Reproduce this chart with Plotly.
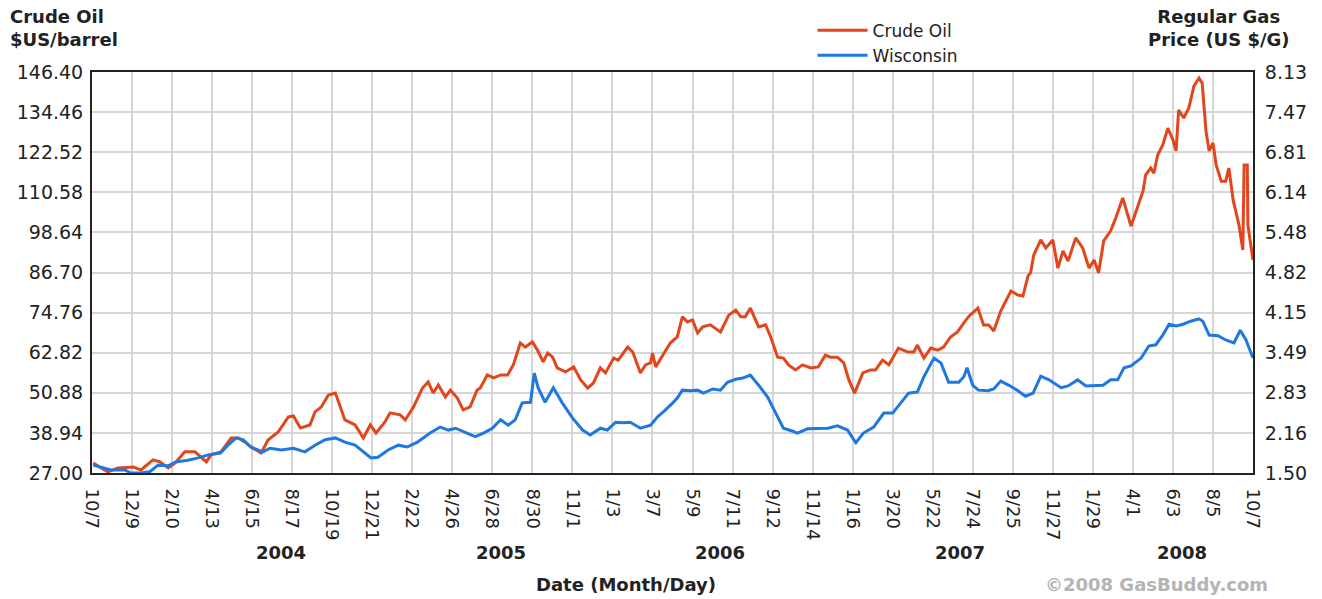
import pandas as pd
import plotly.graph_objects as go

START = pd.Timestamp("2003-10-07")

# Crude oil ($US/barrel): days since 2003-10-07, price
oil_days = [2, 25, 41, 65, 77, 96, 107, 120, 131, 146, 162, 180, 187, 203, 219, 230, 241, 250, 266, 277,
            293, 309, 317, 328, 343, 351, 361, 372, 383, 387, 398, 414, 427, 438, 447, 461, 469, 485, 493, 506,
            520, 529, 537, 545, 556, 564, 575, 584, 595, 606, 611, 622, 632, 643, 654, 663, 674, 682, 693, 701,
            710, 717, 725, 732, 745, 758, 769, 780, 789, 800, 808, 821, 828, 843, 851, 863, 871, 879, 882, 887,
            899, 910, 921, 929, 937, 945, 953, 961, 973, 989, 1002, 1013, 1021, 1028, 1036, 1049, 1060, 1068, 1079, 1088,
            1096, 1107, 1118, 1131, 1143, 1154, 1162, 1173, 1183, 1191, 1200, 1213, 1225, 1233, 1244, 1254, 1269, 1284, 1293, 1299,
            1309, 1320, 1331, 1340, 1351, 1362, 1372, 1380, 1394, 1403, 1411, 1419, 1430, 1446, 1457, 1465, 1473, 1477, 1482, 1493,
            1501, 1512, 1520, 1528, 1536, 1548, 1559, 1569, 1577, 1584, 1592, 1603, 1611, 1622, 1635, 1643, 1654, 1658, 1666, 1671,
            1677, 1685, 1693, 1701, 1706, 1710, 1718, 1726, 1734, 1742, 1747, 1753, 1758, 1764, 1769, 1777, 1784, 1789, 1796, 1805,
            1811, 1813, 1818, 1819, 1827]
oil_price = [30.0, 27.3, 28.5, 28.8, 27.9, 30.9, 30.3, 28.5, 30.0, 33.3, 33.3, 30.3, 32.4, 33.3, 37.4, 37.4, 36.2, 34.7, 33.0, 36.8,
             39.2, 43.7, 44.0, 40.4, 41.3, 45.2, 46.7, 50.2, 50.8, 48.7, 42.8, 41.3, 37.4, 41.3, 38.9, 42.2, 44.9, 44.3, 42.8, 46.7,
             52.3, 54.1, 50.8, 53.2, 49.6, 51.7, 49.3, 45.8, 46.7, 51.7, 52.3, 56.2, 55.3, 56.2, 56.2, 59.2, 65.7, 64.5, 66.0, 63.6,
             60.1, 62.7, 61.5, 58.3, 57.1, 58.6, 54.7, 52.3, 53.8, 58.3, 56.8, 61.2, 60.6, 64.5, 63.0, 56.8, 59.2, 59.8, 62.7, 58.6,
             62.1, 65.7, 67.5, 73.5, 72.0, 72.6, 68.7, 70.5, 71.1, 69.0, 74.0, 75.5, 73.5, 73.5, 76.1, 70.5, 71.1, 67.5, 61.5, 61.2,
             59.2, 57.7, 59.2, 58.3, 58.6, 62.1, 61.5, 61.5, 59.8, 54.7, 50.8, 56.8, 57.7, 57.7, 60.6, 59.2, 64.2, 63.0, 63.0, 65.1,
             61.2, 64.2, 63.6, 64.5, 67.5, 69.0, 71.7, 73.7, 76.1, 71.1, 71.1, 69.3, 75.2, 81.2, 80.0, 79.7, 85.7, 86.6, 91.9, 96.4,
             94.0, 96.4, 88.0, 93.1, 90.1, 97.0, 94.0, 88.0, 90.4, 86.6, 96.1, 99.1, 102.9, 108.9, 100.5, 105.0, 111.0, 115.7, 117.8, 116.3,
             121.7, 124.7, 129.7, 126.2, 122.9, 135.1, 132.7, 135.7, 142.2, 144.6, 143.1, 128.8, 122.9, 125.3, 118.7, 113.9, 113.9, 117.8, 108.0, 100.8,
             93.4, 118.7, 118.7, 100.8, 90.4]

# Wisconsin regular gas (US $/G): days since 2003-10-07, price
gas_days = [2, 14, 30, 52, 61, 77, 91, 104, 120, 131, 151, 167, 183, 202, 214, 227, 238, 250, 269, 280,
            298, 317, 335, 351, 367, 383, 398, 414, 430, 439, 450, 466, 482, 496, 512, 532, 548, 561, 572, 591,
            603, 616, 630, 643, 655, 666, 677, 690, 696, 702, 713, 726, 740, 756, 772, 784, 800, 811, 824, 836,
            847, 863, 879, 890, 899, 914, 921, 929, 942, 953, 962, 977, 989, 1000, 1013, 1024, 1036, 1049, 1063, 1076,
            1088, 1103, 1110, 1126, 1142, 1158, 1173, 1189, 1202, 1214, 1230, 1246, 1260, 1273, 1285, 1299, 1309, 1325, 1336, 1348,
            1364, 1372, 1377, 1386, 1395, 1410, 1419, 1430, 1443, 1457, 1469, 1481, 1493, 1506, 1525, 1536, 1551, 1564, 1577, 1591,
            1603, 1614, 1624, 1635, 1651, 1663, 1674, 1685, 1695, 1706, 1717, 1729, 1742, 1748, 1758, 1772, 1784, 1797, 1807, 1816,
            1827]
gas_price = [1.63, 1.60, 1.55, 1.55, 1.50, 1.50, 1.52, 1.63, 1.62, 1.68, 1.71, 1.75, 1.80, 1.83, 1.96, 2.08, 2.05, 1.93, 1.85, 1.91,
             1.88, 1.91, 1.85, 1.96, 2.05, 2.08, 2.01, 1.96, 1.83, 1.75, 1.76, 1.88, 1.96, 1.93, 2.01, 2.16, 2.26, 2.21, 2.24, 2.16,
             2.10, 2.16, 2.24, 2.38, 2.29, 2.38, 2.66, 2.67, 3.15, 2.91, 2.67, 2.91, 2.66, 2.41, 2.21, 2.13, 2.24, 2.21, 2.34, 2.33,
             2.34, 2.24, 2.29, 2.43, 2.51, 2.66, 2.74, 2.87, 2.86, 2.87, 2.82, 2.89, 2.87, 3.00, 3.05, 3.07, 3.12, 2.95, 2.76, 2.49,
             2.24, 2.19, 2.16, 2.23, 2.24, 2.24, 2.28, 2.21, 2.00, 2.16, 2.26, 2.49, 2.49, 2.66, 2.82, 2.84, 3.09, 3.40, 3.32, 3.00,
             3.00, 3.09, 3.24, 2.95, 2.87, 2.86, 2.89, 3.02, 2.95, 2.86, 2.77, 2.82, 3.10, 3.04, 2.91, 2.94, 3.04, 2.94, 2.94, 2.95,
             3.04, 3.04, 3.24, 3.27, 3.40, 3.60, 3.62, 3.78, 3.96, 3.93, 3.96, 4.01, 4.05, 4.01, 3.78, 3.77, 3.70, 3.65, 3.86, 3.70,
             3.40]

# Axis ticks
x_tick_labels = ["10/7", "12/9", "2/10", "4/13", "6/15", "8/17", "10/19", "12/21", "2/22", "4/26",
                 "6/28", "8/30", "11/1", "1/3", "3/7", "5/9", "7/11", "9/12", "11/14", "1/16",
                 "3/20", "5/22", "7/24", "9/25", "11/27", "1/29", "4/1", "6/3", "8/5", "10/7"]
x_tick_step_days = 63
years = ["2004", "2005", "2006", "2007", "2008"]
year_label_dates = ["2004-07-31", "2005-07-11", "2006-06-22", "2007-07-04", "2008-06-17"]
oil_ticks = [27.00, 38.94, 50.88, 62.82, 74.76, 86.70, 98.64, 110.58, 122.52, 134.46, 146.40]
gas_tick_labels = ["1.50", "2.16", "2.83", "3.49", "4.15", "4.82", "5.48", "6.14", "6.81", "7.47", "8.13"]
gas_min, gas_max = 1.50, 8.13

oil_dates = [START + pd.Timedelta(days=d) for d in oil_days]
gas_dates = [START + pd.Timedelta(days=d) for d in gas_days]
tick_dates = [START + pd.Timedelta(days=x_tick_step_days * i) for i in range(len(x_tick_labels))]
gas_tickvals = [gas_min + (gas_max - gas_min) * i / 10 for i in range(11)]

RED = "#e2461c"
BLUE = "#1f78e0"
FONT = "DejaVu Sans, Verdana, sans-serif"
GRID = "#d6d6d6"

fig = go.Figure()
fig.add_trace(go.Scatter(x=oil_dates, y=oil_price, name="Crude Oil", mode="lines",
                         line=dict(color=RED, width=3), yaxis="y"))
fig.add_trace(go.Scatter(x=gas_dates, y=gas_price, name="Wisconsin", mode="lines",
                         line=dict(color=BLUE, width=3), yaxis="y2"))

fig.update_layout(
    width=1322, height=599,
    margin=dict(l=92, r=69, t=72, b=126, autoexpand=False),
    paper_bgcolor="white", plot_bgcolor="white",
    font=dict(family=FONT, size=18, color="#222"),
    showlegend=True,
    legend=dict(x=0.6206, y=1.148, xanchor="left", yanchor="top",
                font=dict(family=FONT, size=17, color="#222"),
                itemwidth=50, tracegroupgap=0, bgcolor="rgba(0,0,0,0)"),
    xaxis=dict(type="date", automargin=False,
               range=[tick_dates[0], tick_dates[-1]],
               tickvals=tick_dates, ticktext=x_tick_labels, tickangle=90,
               tickfont=dict(family=FONT, size=18, color="#222"),
               showgrid=True, gridcolor=GRID, gridwidth=2,
               showline=True, linecolor="#222", linewidth=2, mirror=True,
               ticks="", ticklabelstandoff=10, zeroline=False),
    yaxis=dict(range=[oil_ticks[0], oil_ticks[-1]], automargin=False,
               tickvals=oil_ticks, ticktext=[f"{v:.2f}" for v in oil_ticks],
               tickfont=dict(family=FONT, size=19, color="#222"),
               showgrid=True, gridcolor=GRID, gridwidth=2,
               showline=True, linecolor="#222", linewidth=2, mirror=True,
               ticks="", ticklabelstandoff=3, zeroline=False),
    yaxis2=dict(range=[gas_min, gas_max], overlaying="y", side="right", automargin=False,
                tickvals=gas_tickvals, ticktext=gas_tick_labels,
                tickfont=dict(family=FONT, size=19, color="#222"),
                showgrid=False, showline=True, linecolor="#222", linewidth=2,
                ticks="", ticklabelstandoff=6, zeroline=False),
)

annotations = [
    dict(text="<b>Crude Oil<br>$US/barrel</b>", xref="paper", yref="paper", x=-0.0726, y=1.17,
         xanchor="left", yanchor="top", align="left", showarrow=False,
         font=dict(family=FONT, size=18, color="#222")),
    dict(text="<b>Regular Gas<br>Price (US $/G)</b>", xref="paper", yref="paper", x=0.9707, y=1.17,
         xanchor="center", yanchor="top", align="center", showarrow=False,
         font=dict(family=FONT, size=18, color="#222")),
    dict(text="<b>Date (Month/Day)</b>", xref="paper", yref="paper", x=0.46, y=-0.279,
         xanchor="center", yanchor="middle", showarrow=False,
         font=dict(family=FONT, size=18, color="#222")),
    dict(text="<b>©2008 GasBuddy.com</b>", xref="paper", yref="paper", x=0.917, y=-0.279,
         xanchor="center", yanchor="middle", showarrow=False,
         font=dict(family=FONT, size=18, color="#b4b4b4")),
]
for yr, yd in zip(years, year_label_dates):
    annotations.append(dict(text=f"<b>{yr}</b>", xref="x", yref="paper", x=yd, y=-0.1995,
                            xanchor="center", yanchor="middle", showarrow=False,
                            font=dict(family=FONT, size=18, color="#222")))
fig.update_layout(annotations=annotations)

fig.write_html("out.html", config={"displayModeBar": False},
               post_script="document.body.style.margin='0px';")
